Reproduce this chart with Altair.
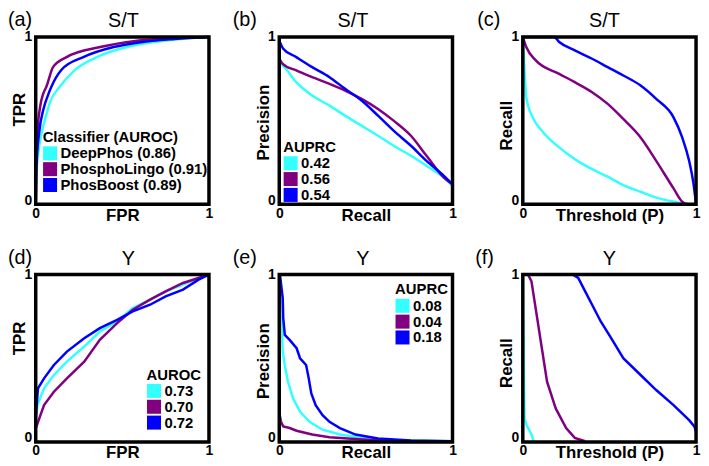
import altair as alt
import pandas as pd

FONT = "Liberation Sans"
CYAN = "#33ffff"
PURPLE = "#800080"
BLUE = "#0000ff"
COLORS = [CYAN, PURPLE, BLUE]
W, H = 175, 169

# ---------------- data ----------------
# (a) S/T ROC
A_LABELS = ["DeepPhos (0.86)", "PhosphoLingo (0.91)", "PhosBoost (0.89)"]
A_CYAN_X = [0, 0.005, 0.035, 0.06, 0.081, 0.14, 0.227, 0.353, 0.527, 0.68, 0.837, 1]
A_CYAN_Y = [0, 0.2, 0.43, 0.53, 0.606, 0.704, 0.804, 0.88, 0.94, 0.969, 0.988, 1]
A_PURPLE_X = [0, 0.003, 0.01, 0.025, 0.043, 0.062, 0.1, 0.178, 0.372, 0.565, 0.76, 1]
A_PURPLE_Y = [0, 0.25, 0.43, 0.58, 0.66, 0.704, 0.82, 0.88, 0.94, 0.975, 0.99, 1]
A_BLUE_X = [0, 0.004, 0.02, 0.045, 0.07, 0.091, 0.149, 0.275, 0.45, 0.605, 0.8, 1]
A_BLUE_Y = [0, 0.22, 0.43, 0.57, 0.65, 0.704, 0.804, 0.88, 0.94, 0.969, 0.988, 1]

# (b) S/T precision-recall
B_LABELS = ["0.42", "0.56", "0.54"]
B_CYAN_X = [0, 0.01, 0.03, 0.098, 0.19, 0.29, 0.38, 0.475, 0.57, 0.66, 0.76, 0.85, 0.95, 1]
B_CYAN_Y = [0.9, 0.84, 0.82, 0.73, 0.65, 0.59, 0.53, 0.47, 0.41, 0.35, 0.29, 0.23, 0.16, 0.11]
B_PURPLE_X = [0, 0.02, 0.098, 0.19, 0.29, 0.38, 0.475, 0.57, 0.66, 0.76, 0.85, 0.95, 1]
B_PURPLE_Y = [0.87, 0.84, 0.8, 0.76, 0.72, 0.68, 0.63, 0.57, 0.5, 0.41, 0.29, 0.16, 0.12]
B_BLUE_X = [0, 0.023, 0.098, 0.19, 0.29, 0.38, 0.475, 0.57, 0.66, 0.76, 0.85, 0.95, 1]
B_BLUE_Y = [0.98, 0.93, 0.88, 0.82, 0.76, 0.69, 0.62, 0.53, 0.44, 0.35, 0.26, 0.17, 0.12]

# (c) S/T recall vs threshold
C_LABELS = ["DeepPhos", "PhosphoLingo", "PhosBoost"]
C_CYAN_X = [0, 0.01, 0.02, 0.057, 0.11, 0.21, 0.3, 0.4, 0.49, 0.58, 0.68, 0.77, 0.87, 0.96, 1]
C_CYAN_Y = [1, 0.8, 0.64, 0.52, 0.44, 0.34, 0.27, 0.21, 0.165, 0.115, 0.075, 0.04, 0.016, 0, 0]
C_PURPLE_X = [0, 0.02, 0.075, 0.21, 0.3, 0.4, 0.49, 0.58, 0.68, 0.77, 0.87, 0.92, 0.95, 1]
C_PURPLE_Y = [1, 0.94, 0.86, 0.78, 0.73, 0.67, 0.6, 0.51, 0.4, 0.26, 0.095, 0.016, 0, 0]
C_BLUE_X = [0, 0.18, 0.21, 0.3, 0.4, 0.49, 0.58, 0.68, 0.77, 0.87, 0.92, 0.96, 0.985, 1]
C_BLUE_Y = [1, 1, 0.97, 0.92, 0.87, 0.82, 0.77, 0.71, 0.63, 0.52, 0.4, 0.26, 0.125, 0]

# (d) Y ROC
D_LABELS = ["0.73", "0.70", "0.72"]
D_CYAN_X = [0, 0.01, 0.048, 0.105, 0.18, 0.28, 0.37, 0.47, 0.56, 0.66, 0.75, 0.85, 0.94, 1]
D_CYAN_Y = [0.12, 0.22, 0.32, 0.4, 0.48, 0.57, 0.66, 0.72, 0.8, 0.85, 0.9, 0.94, 0.98, 1]
D_PURPLE_X = [0, 0.048, 0.105, 0.18, 0.28, 0.37, 0.47, 0.56, 0.66, 0.75, 0.85, 0.94, 1]
D_PURPLE_Y = [0.08, 0.22, 0.3, 0.38, 0.48, 0.61, 0.71, 0.79, 0.85, 0.9, 0.95, 0.98, 1]
D_BLUE_X = [0, 0.013, 0.048, 0.105, 0.18, 0.28, 0.37, 0.47, 0.56, 0.66, 0.75, 0.85, 0.94, 1]
D_BLUE_Y = [0.14, 0.32, 0.38, 0.46, 0.54, 0.62, 0.68, 0.73, 0.78, 0.82, 0.87, 0.91, 0.97, 1]

# (e) Y precision-recall
E_LABELS = ["0.08", "0.04", "0.18"]
E_CYAN_X = [0.008, 0.013, 0.02, 0.032, 0.05, 0.08, 0.12, 0.175, 0.25, 0.35, 0.48, 0.67, 1]
E_CYAN_Y = [0.97, 0.76, 0.54, 0.46, 0.36, 0.26, 0.18, 0.12, 0.073, 0.044, 0.024, 0.01, 0.004]
E_PURPLE_X = [0, 0.003, 0.01, 0.023, 0.06, 0.1, 0.19, 0.29, 0.48, 0.67, 1]
E_PURPLE_Y = [0.38, 0.16, 0.12, 0.093, 0.083, 0.067, 0.044, 0.028, 0.014, 0.004, 0.002]
E_BLUE_X = [0.004, 0.02, 0.023, 0.032, 0.06, 0.1, 0.12, 0.155, 0.17, 0.185, 0.21, 0.25, 0.29, 0.35, 0.44, 0.57, 0.76, 1]
E_BLUE_Y = [1, 0.86, 0.74, 0.64, 0.61, 0.56, 0.5, 0.46, 0.38, 0.29, 0.22, 0.16, 0.12, 0.083, 0.044, 0.02, 0.008, 0.004]

# (f) Y recall vs threshold
F_LABELS = ["DeepPhos", "PhosphoLingo", "PhosBoost"]
F_CYAN_X = [0, 0.005, 0.01, 0.022, 0.05, 0.064]
F_CYAN_Y = [1, 0.5, 0.14, 0.1, 0.044, 0]
F_PURPLE_X = [0, 0.03, 0.05, 0.08, 0.11, 0.14, 0.19, 0.25, 0.3, 0.36]
F_PURPLE_Y = [1, 1, 0.96, 0.76, 0.56, 0.36, 0.2, 0.083, 0.024, 0.004]
F_BLUE_X = [0, 0.29, 0.32, 0.36, 0.4, 0.45, 0.51, 0.58, 0.68, 0.77, 0.87, 0.96, 0.99, 1]
F_BLUE_Y = [1, 1, 0.98, 0.9, 0.82, 0.72, 0.62, 0.5, 0.4, 0.31, 0.22, 0.13, 0.093, 0.063]


def panel(letter, letter_x, title, title_dx, xtitle, ytitle, ytitle_y,
          labels, series, interp, legend_title=None, legend_xy=None):
    rows = []
    for lab, (xs, ys) in zip(labels, series):
        for j, (x, y) in enumerate(zip(xs, ys)):
            rows.append({"s": lab, "o": j, "x": x, "y": y})
    df = pd.DataFrame(rows)
    sc = alt.Scale(domain=[0, 1], nice=False, zero=False)
    xaxis = alt.Axis(values=[0, 1], title=xtitle, labelFlush=False, ticks=False,
                     domain=False, grid=False, labelPadding=2, titleY=3,
                     titleBaseline="top", format="d")
    yaxis = alt.Axis(values=[0, 1], title=ytitle, labelFlush=False, ticks=False,
                     domain=False, grid=False, labelPadding=4, titleX=-7,
                     titleY=ytitle_y, titleAngle=270, titleBaseline="bottom",
                     titleAlign="center", format="d",
                     labelBaseline={"condition": {"test": "datum.value == 0",
                                                  "value": "alphabetic"},
                                    "value": "middle"})
    lines = alt.Chart(df).mark_line(strokeWidth=2.5, interpolate=interp).encode(
        x=alt.X("x:Q", scale=sc, axis=xaxis),
        y=alt.Y("y:Q", scale=sc, axis=yaxis),
        stroke=alt.Stroke("s:N", scale=alt.Scale(domain=labels, range=COLORS), legend=None),
        order="o:Q",
    )
    layers = [lines]
    if legend_title is not None:
        leg = alt.Chart(df).transform_filter("false").mark_square(opacity=1).encode(
            fill=alt.Fill("s:N", scale=alt.Scale(domain=labels, range=COLORS),
                          legend=alt.Legend(
                              orient="none", legendX=legend_xy[0], legendY=legend_xy[1],
                              title=legend_title, symbolType="square", symbolSize=200,
                              symbolStrokeWidth=0, symbolOpacity=1, labelFont=FONT,
                              labelFontSize=15, labelFontWeight="bold", labelColor="black",
                              titleFont=FONT, titleFontSize=15, titleFontWeight="bold",
                              titleColor="black", titlePadding=1, rowPadding=0,
                              labelOffset=3, padding=0, titleLimit=400, labelLimit=400,
                              direction="vertical")),
        )
        layers.append(leg)
    tdf = pd.DataFrame({"t": [letter]})
    ldf = pd.DataFrame({"t": [title]})
    lab = alt.Chart(tdf).mark_text(align="left", baseline="alphabetic", fontSize=20,
                                   font=FONT, color="black").encode(
        text="t:N", x=alt.value(letter_x), y=alt.value(-11))
    ttl = alt.Chart(ldf).mark_text(align="center", baseline="alphabetic", fontSize=20,
                                   font=FONT, color="black").encode(
        text="t:N", x=alt.value(W / 2 + title_dx), y=alt.value(-10))
    box = alt.Chart(tdf).mark_rect(fillOpacity=0, stroke="black", strokeWidth=3.5).encode(
        x=alt.value(0), x2=alt.value(W), y=alt.value(0), y2=alt.value(H))
    layers += [lab, ttl, box]
    return alt.layer(*layers).properties(width=W, height=H).resolve_scale(
        stroke="independent", fill="independent")


pa = panel("(a)", -28, "S/T", 1, "FPR", "TPR", 73, A_LABELS,
           [(A_CYAN_X, A_CYAN_Y), (A_PURPLE_X, A_PURPLE_Y), (A_BLUE_X, A_BLUE_Y)],
           "monotone", "Classifier (AUROC)", (7, 94))
pb = panel("(b)", -47, "S/T", -13, "Recall", "Precision", 86, B_LABELS,
           [(B_CYAN_X, B_CYAN_Y), (B_PURPLE_X, B_PURPLE_Y), (B_BLUE_X, B_BLUE_Y)],
           "monotone", "AUPRC", (4, 104))
pc = panel("(c)", -46, "S/T", -5, "Threshold (P)", "Recall", 89, C_LABELS,
           [(C_CYAN_X, C_CYAN_Y), (C_PURPLE_X, C_PURPLE_Y), (C_BLUE_X, C_BLUE_Y)],
           "monotone")
pd_ = panel("(d)", -28, "Y", 6, "FPR", "TPR", 64, D_LABELS,
            [(D_CYAN_X, D_CYAN_Y), (D_PURPLE_X, D_PURPLE_Y), (D_BLUE_X, D_BLUE_Y)],
            "linear", "AUROC", (112, 94))
pe = panel("(e)", -47, "Y", -3, "Recall", "Precision", 87, E_LABELS,
           [(E_CYAN_X, E_CYAN_Y), (E_PURPLE_X, E_PURPLE_Y), (E_BLUE_X, E_BLUE_Y)],
           "linear", "AUPRC", (117, 8))
pf = panel("(f)", -48, "Y", 0, "Threshold (P)", "Recall", 89, F_LABELS,
           [(F_CYAN_X, F_CYAN_Y), (F_PURPLE_X, F_PURPLE_Y), (F_BLUE_X, F_BLUE_Y)],
           "linear")

chart = alt.concat(pa, pb, pc, pd_, pe, pf, columns=3,
                   spacing={"row": 71, "column": 71}, bounds="flush").resolve_scale(
    stroke="independent", fill="independent", x="independent", y="independent"
).resolve_legend(fill="independent").properties(
    padding=0, background="white"
).configure_view(strokeWidth=0).configure_axis(
    labelFont=FONT, labelFontSize=14, labelFontWeight="bold", labelColor="black",
    titleFont=FONT, titleFontSize=17, titleFontWeight="bold", titleColor="black"
)

chart.save("out.html", embed_options={"renderer": "svg", "actions": False})
